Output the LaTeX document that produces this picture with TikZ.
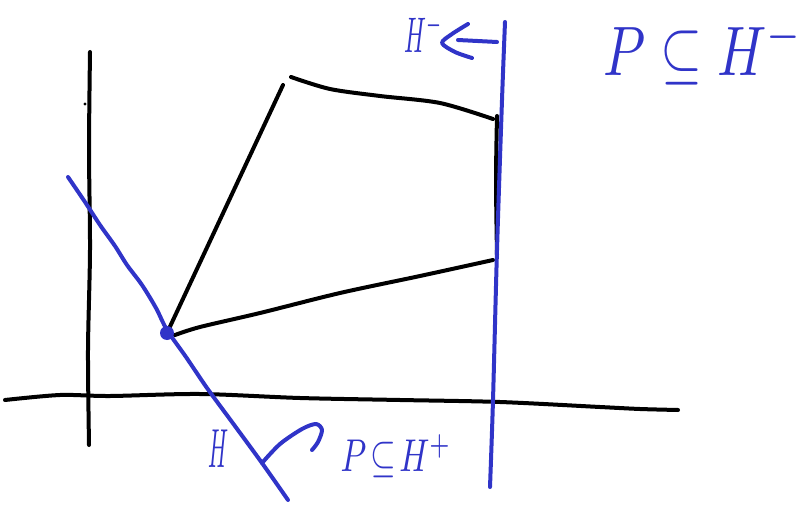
\documentclass[tikz,border=0pt]{standalone}
\usetikzlibrary{arrows.meta}
\definecolor{pen}{RGB}{48,52,200}
\tikzset{
  blk/.style={line width=4pt,black,line cap=round,line join=round},
  blu/.style={line width=4pt,pen,line cap=round,line join=round},
  lbl/.style={pen,inner sep=0pt,anchor=center}
}
\begin{document}
\begin{tikzpicture}[x=1pt,y=-1pt]
\useasboundingbox (0,0) rectangle (805,505);
% axes
\draw[blk] plot[smooth] coordinates {(90,52) (89,150) (90,250) (88,350) (89,445)};
\draw[blk] plot[smooth] coordinates {(5,400) (60,395) (110,396) (200,394) (300,398) (400,400) (500,402) (600,407) (640,409) (678,410)};
\fill[black] (85,104) circle (1.6pt);
% polygon
\coordinate (v) at (167,333);
\draw[blk] (v) -- (283,85);
\draw[blk] plot[smooth] coordinates {(291,77) (330,89) (380,96) (440,103) (493,119)};
\draw[blk] plot[smooth] coordinates {(497,116) (496,180) (497,255)};
\draw[blk] plot[smooth] coordinates {(175,335) (200,327) (260,313) (340,293) (420,276) (493,260)};
% blue hyperplane H
\draw[blu] plot[smooth,tension=0.5] coordinates {(68,177) (85,202) (100,225) (115,246) (127,265) (142,285) (156,308) (167,330) (186,357) (207,388) (232,422) (262,463) (288,500)};
\fill[pen] (v) circle (7pt);
\node[lbl,xscale=2.2,yscale=5.5] (hb) at (219,449) {$H$};
% curved arrow
\draw[blu] plot[smooth] coordinates {(262,463) (280,444) (302,429) (316,424) (322,430) (318,442) (312,450)};
\node[lbl,xscale=3.3,yscale=4.6] (pp) at (396,456) {$P\!\subseteq\! H^{+}$};
% right blue line
\draw[blu] plot[smooth] coordinates {(505,22) (502,100) (497,250) (493,400) (490,487)};
% arrow to H^-
\draw[blu] (497,42) -- (458,40);
\draw[blu] plot[smooth] coordinates {(468,24) (452,34) (442,43) (455,52) (472,58)};
\node[lbl,xscale=2.4,yscale=5] (hm) at (424,33) {$H^{-}$};
\node[lbl,xscale=5.4,yscale=7] (pr) at (703,52) {$P\subseteq H^{-}$};
\end{tikzpicture}
\end{document}
